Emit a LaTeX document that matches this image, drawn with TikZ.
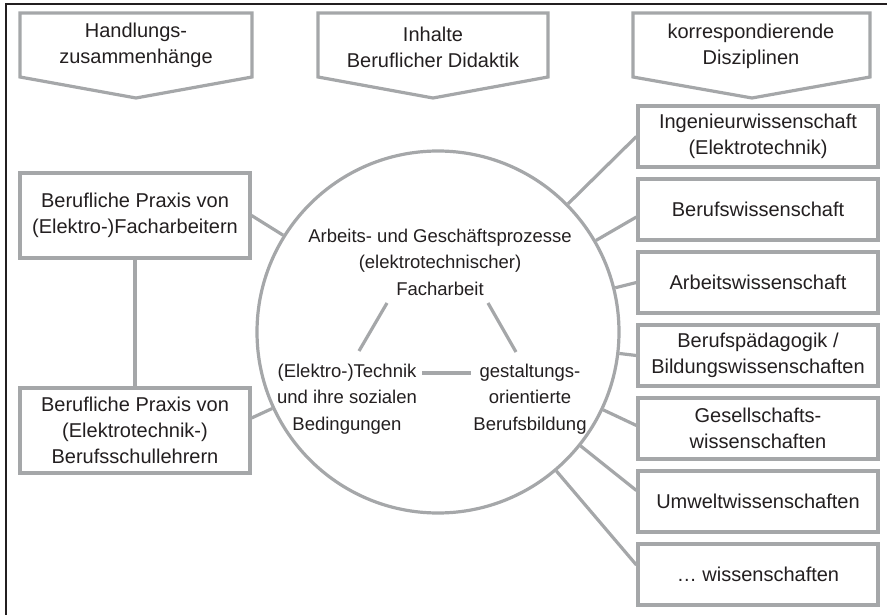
\documentclass[tikz,border=0pt]{standalone}
\usepackage{fontspec}
\setmainfont{Liberation Sans}
\definecolor{linegray}{HTML}{A5A7A9}
\definecolor{ink}{HTML}{231F20}
\begin{document}
\begin{tikzpicture}[x=1pt,y=-1pt,
  every node/.style={text=ink, font=\fontsize{20}{26}\selectfont, align=center, inner sep=0pt},
  grayline/.style={draw=linegray, line width=3.2pt},
  box/.style={grayline, fill=white},
  leftbox/.style={box, minimum width=230, minimum height=85},
  rightbox/.style={box, minimum width=240, minimum height=61},
  circtext/.style={font=\fontsize{18.5}{26.5}\selectfont},
  header/.style={grayline, line join=miter}]
\useasboundingbox (0,0) rectangle (887,615);

% frame (top and left edge)
\draw[ink, line width=2.5pt, line join=miter] (887,4) -- (6,4) -- (6,615);

% column headers
\node (h1) at (136,45) {Handlungs-\\zusammenhänge};
\draw[header] (20,13) -- (252,13) -- (252,77) -- (136,98) -- (20,77) -- cycle;
\node (h2) at (433,47) {Inhalte\\Beruflicher Didaktik};
\draw[header] (318,13) -- (548,13) -- (548,77) -- (433,98) -- (318,77) -- cycle;
\node (h3) at (751,46) {korrespondierende\\Disziplinen};
\draw[header] (633,13) -- (870,13) -- (870,77) -- (752,98) -- (633,77) -- cycle;

% central circle
\node[box, circle, minimum size=362] (c) at (438,332) {};
\node[circtext] (top) at (440,262) {Arbeits- und Geschäftsprozesse\\(elektrotechnischer)\\Facharbeit};
\node[circtext] (tech) at (347,399) {(Elektro-)Technik\\und ihre sozialen\\Bedingungen};
\node[circtext] (bild) at (530,399) {gestaltungs-\\orientierte\\Berufsbildung};
\coordinate (tl) at (387,303);
\coordinate (bl) at (359,351);
\coordinate (tr) at (488,303);
\coordinate (br) at (516,352);
\coordinate (ml) at (422,373);
\coordinate (mr) at (471,373);
\draw[grayline] (tl) -- (bl);
\draw[grayline] (tr) -- (br);
\draw[grayline] (ml) -- (mr);

% practice boxes
\node[leftbox] (p1) at (135,215.5) {Berufliche Praxis von\\(Elektro-)Facharbeitern};
\node[leftbox] (p2) at (135,430.5) {Berufliche Praxis von\\(Elektrotechnik-)\\Berufsschullehrern};

% discipline boxes
\node[rightbox] (d1) at (758,136.5) {Ingenieurwissenschaft\\(Elektrotechnik)};
\node[rightbox] (d2) at (758,209.5) {Berufswissenschaft};
\node[rightbox] (d3) at (758,282.5) {Arbeitswissenschaft};
\node[rightbox] (d4) at (758,355.5) {Berufspädagogik /\\Bildungswissenschaften};
\node[rightbox] (d5) at (758,428.5) {Gesellschafts-\\wissenschaften};
\node[rightbox] (d6) at (758,501.5) {Umweltwissenschaften};
\node[rightbox] (d7) at (758,574.5) {… wissenschaften};

% connectors
\draw[grayline] (p1) -- (p2);
\draw[grayline] (c) -- (p1.east);
\draw[grayline] (c) -- ([yshift=12.5pt]p2.east);
\draw[grayline] (c) -- (d1.west);
\draw[grayline] (c) -- ([yshift=-7.5pt]d2.west);
\draw[grayline] (c) -- (d3.west);
\draw[grayline] (c) -- (d4.west);
\draw[grayline] (c) -- ([yshift=3pt]d5.west);
\draw[grayline] (c) -- ([yshift=11pt]d6.west);
\draw[grayline] (c) -- ([yshift=9.5pt]d7.west);
\end{tikzpicture}
\end{document}
